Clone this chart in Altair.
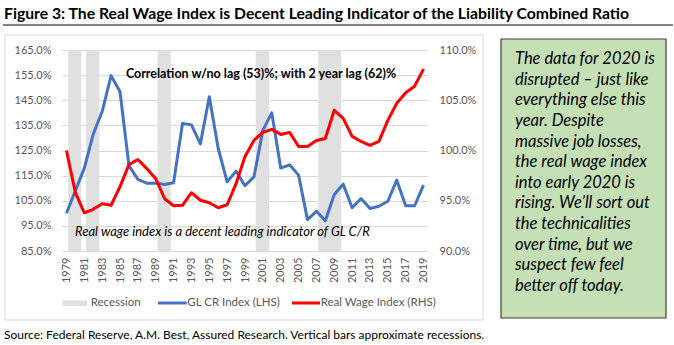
import altair as alt
import pandas as pd

years = list(range(1979, 2020))
gl_cr = [100, 109, 118, 131.5, 140.5, 154.8, 148.4, 119, 113.5, 112, 112, 111.5, 112.2,
         135.8, 135.2, 127.6, 146.4, 125.8, 112.5, 116.8, 111, 114.5, 133, 140, 118,
         119.3, 115.2, 97.5, 100.8, 97, 107.5, 111.6, 102.2, 105.9, 101.9, 102.8, 104.8,
         113.2, 103, 103, 111.2]
real_wage = [100.0, 95.8, 93.8, 94.15, 94.7, 94.55, 96.4, 98.6, 99.1, 98.2, 97.2, 95.2,
             94.5, 94.55, 95.8, 95.05, 94.8, 94.3, 94.6, 96.7, 99.4, 101.0, 101.8, 102.1,
             101.6, 101.8, 100.4, 100.4, 101.0, 101.2, 104.0, 103.2, 101.4, 100.9, 100.5,
             100.9, 103.0, 104.7, 105.75, 106.4, 108.1]
recession_start = [1979.2, 1981.2, 1989.2, 2000.2, 2007.2]
recession_end = [1980.65, 1982.7, 1990.7, 2001.7, 2009.75]
left_ticks = [85, 95, 105, 115, 125, 135, 145, 155, 165]
right_ticks = [90, 95, 100, 105, 110]
x_ticks = list(range(1979, 2020, 2))

title_text = "Figure 3: The Real Wage Index is Decent Leading Indicator of the Liability Combined Ratio"
source_text = "Source: Federal Reserve, A.M. Best, Assured Research. Vertical bars approximate recessions."
corr_text = "Correlation w/no lag (53)%; with 2 year lag (62)%"
note_text = "Real wage index is a decent leading indicator of GL C/R"
legend_labels = ["Recession", "GL CR Index (LHS)", "Real Wage Index (RHS)"]
box_lines = [
    "The data for 2020 is",
    "disrupted \u2013 just like",
    "everything else this",
    "year.  Despite",
    "massive job losses,",
    "the real wage index",
    "into early 2020 is",
    "rising.  We\u2019ll sort out",
    "the technicalities",
    "over time, but we",
    "suspect few feel",
    "better off today.",
]

FONT = "Lato"
W, H = 366, 201

df = pd.DataFrame({"year": years, "gl": gl_cr, "rw": real_wage})
rec = pd.DataFrame({"start": recession_start, "end": recession_end})
one = pd.DataFrame({"k": [0]})

xscale = alt.Scale(domain=[1978.5, 2019.5], nice=False, zero=False)
xaxis = alt.Axis(values=x_ticks, format="d", labelAngle=270, title=None, grid=False,
                 ticks=False, domainColor="#D9D9D9", labelColor="#595959",
                 labelFont=FONT, labelFontSize=11, labelPadding=6)

border = alt.Chart(one).mark_rect(fillOpacity=0, stroke="#D9D9D9", strokeWidth=1).encode(
    x=alt.value(-57), x2=alt.value(421), y=alt.value(-15), y2=alt.value(270))

rec_layer = alt.Chart(rec).mark_rect(color="#E0E0E0").encode(
    x=alt.X("start:Q", scale=xscale, axis=xaxis),
    x2="end:Q",
    y=alt.value(0), y2=alt.value(H))

blue = alt.Chart(df).mark_line(color="#4472C4", strokeWidth=3, strokeJoin="round").encode(
    x=alt.X("year:Q", scale=xscale, axis=xaxis),
    y=alt.Y("gl:Q", scale=alt.Scale(domain=[85, 165], nice=False, zero=False),
            axis=alt.Axis(values=left_ticks, labelExpr="format(datum.value, '.1f') + '%'",
                          title=None, orient="left", grid=True, gridColor="#D9D9D9",
                          domain=False, ticks=False, labelColor="#595959", labelFont=FONT,
                          labelFontSize=11, labelPadding=11)))

red = alt.Chart(df).mark_line(color="#FF0000", strokeWidth=3, strokeJoin="round").encode(
    x=alt.X("year:Q", scale=xscale, axis=xaxis),
    y=alt.Y("rw:Q", scale=alt.Scale(domain=[90, 110], nice=False, zero=False),
            axis=alt.Axis(values=right_ticks, labelExpr="format(datum.value, '.1f') + '%'",
                          title=None, orient="right", grid=False, domain=False, ticks=False,
                          labelColor="#595959", labelFont=FONT, labelFontSize=11,
                          labelPadding=11)))

def txt(s, x, y, size, weight="normal", style="normal", color="black", align="left"):
    return alt.Chart(one).mark_text(font=FONT, fontSize=size, fontWeight=weight,
                                    fontStyle=style, color=color, align=align,
                                    baseline="middle").encode(
        x=alt.value(x), y=alt.value(y), text=alt.value(s))

title = txt(title_text, -58, -36, 15.75, weight="bold")
title_rule = alt.Chart(one).mark_rule(color="#808080", strokeWidth=2).encode(
    x=alt.value(-59), x2=alt.value(611), y=alt.value(-25))
source = txt(source_text, -58, 285, 12)
corr = txt(corr_text, 199, 24, 12.5, weight="bold", align="center")
note = txt(note_text, 13, 182, 13, style="italic")

leg_rect = alt.Chart(one).mark_rect(color="#E0E0E0").encode(
    x=alt.value(0.7), x2=alt.value(25.3), y=alt.value(250.5), y2=alt.value(256))
leg_blue = alt.Chart(one).mark_rule(color="#4472C4", strokeWidth=3).encode(
    x=alt.value(96), x2=alt.value(124.7), y=alt.value(253))
leg_red = alt.Chart(one).mark_rule(color="#FF0000", strokeWidth=3).encode(
    x=alt.value(230), x2=alt.value(258), y=alt.value(253))
leg_t1 = txt(legend_labels[0], 28.7, 253, 11.5, color="#595959")
leg_t2 = txt(legend_labels[1], 125.3, 253, 11.5, color="#595959")
leg_t3 = txt(legend_labels[2], 258.7, 253, 11.5, color="#595959")

box = alt.Chart(one).mark_rect(fill="#C5E0B4", stroke="#404040", strokeWidth=1.2).encode(
    x=alt.value(439), x2=alt.value(604), y=alt.value(-11), y2=alt.value(268))
box_text = alt.Chart(one).mark_text(font=FONT, fontSize=16.5, fontStyle="italic", color="black",
                                    align="left", baseline="middle", lineHeight=20.6).encode(
    x=alt.value(453), y=alt.value(9.3), text=alt.value(box_lines))

chart = alt.layer(
    border, rec_layer, blue, red, title, title_rule, source, corr, note,
    leg_rect, leg_blue, leg_red, leg_t1, leg_t2, leg_t3, box, box_text
).resolve_scale(y="independent").properties(
    width=W, height=H,
    autosize=alt.AutoSizeParams(type="none"),
    padding={"left": 62, "top": 50, "right": 246, "bottom": 94},
    background="white",
).configure_view(stroke="transparent")

chart.save("out.html", embed_options={"renderer": "svg", "actions": False})
